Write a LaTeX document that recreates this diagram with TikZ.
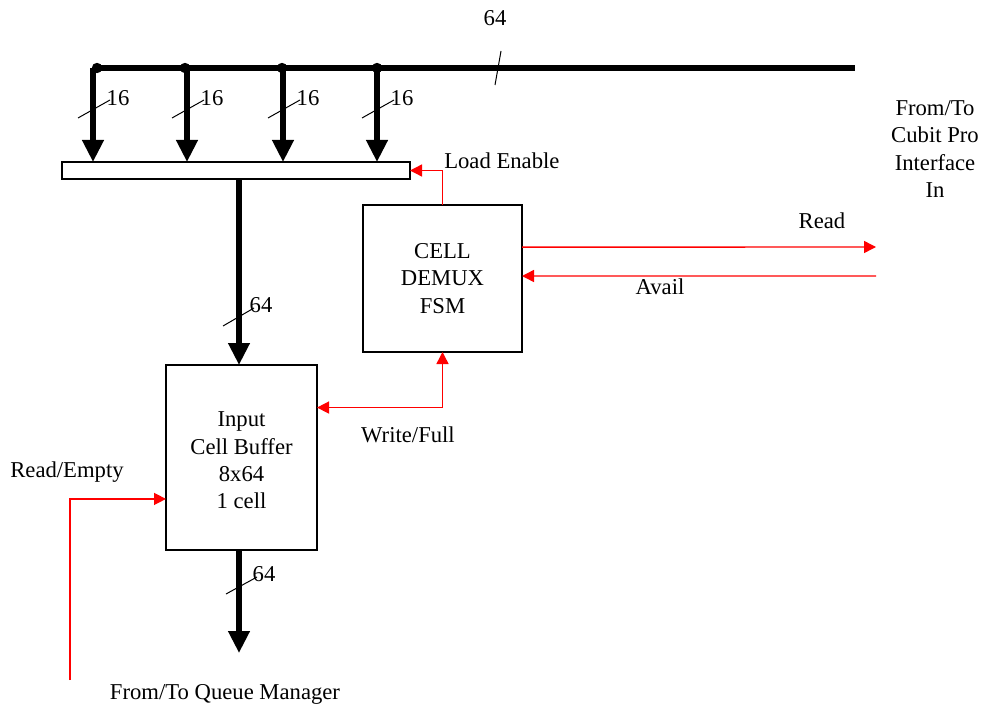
\documentclass[tikz,border=0pt]{standalone}
\usepackage{fontspec}
\setmainfont{Liberation Serif}
\usetikzlibrary{arrows.meta,calc}
\begin{document}
\begin{tikzpicture}[x=0.75pt,y=-0.75pt,
  every node/.style={font=\fontsize{17}{20.5}\selectfont},
  box/.style={draw,line width=0.8pt,inner sep=0pt,outer sep=0pt,anchor=north west,fill=white},
  bus/.style={line width=4pt},
  busarrow/.style={line width=3.9pt,-{Triangle[length=16.5pt,width=15.5pt]}},
  sig/.style={red,line width=1.1pt},
  sigarrow/.style={red,line width=1.1pt,-{Triangle[length=9pt,width=9pt]}},
  slash/.style={line width=0.75pt},
  lbl/.style={inner sep=0pt}]
\useasboundingbox (0,0) rectangle (984,706);

% boxes
\node[box,minimum width=261pt,minimum height=12.75pt] (reg) at (62,162) {};
\node[box,minimum width=119.25pt,minimum height=110.25pt] (fsm) at (363,205) {};
\node[box,minimum width=113.25pt,minimum height=138.75pt] (inbuf) at (166,365) {};
\node[lbl,align=center] (fsmtxt) at (fsm.center) {CELL\\DEMUX\\FSM};
\node[lbl,align=center] (inbuftxt) at ($(inbuf.center)+(0,3)$) {Input\\Cell Buffer\\8x64\\1 cell};

% main bus
\coordinate (busL) at (95,68);
\coordinate (busR) at (855,68);
\draw[bus] (busL) -- (busR);
\draw[slash] (495,85) -- (501,51);
\node[lbl] (bus64) at (495,18) {64};

% taps
\foreach \x/\d [count=\i] in {93/97,187/185,283/282,377/377}{
  \coordinate (t\i) at (\x,68);
  \fill (\d,68) circle[radius=3.9pt];
  \draw[busarrow] (t\i) -- (t\i |- reg.north);
  \draw[slash] (\x-15,118) -- (\x+17,100);
  \node[lbl] (l\i) at (\x+25,98) {16};
}

% register to input buffer
\coordinate (rgout) at (239,179);
\draw[busarrow] (rgout) -- (rgout |- inbuf.north);
\draw[slash] (223,326) -- (254,308);
\node[lbl] (l64a) at (261,305) {64};

% output of input buffer
\coordinate (qm) at (239,653);
\draw[busarrow] (qm |- inbuf.south) -- (qm);
\draw[slash] (226,594) -- (257,577);
\node[lbl] (l64b) at (264,574) {64};
\node[lbl] (qmtxt) at (225,694) {From/To Queue Manager};

% load enable
\draw[sigarrow] (fsm.north) |- (reg.east);
\node[lbl,anchor=west] (le) at (444,161) {Load Enable};

% read / avail
\coordinate (rdend) at (876,247);
\coordinate (avst) at (876,276);
\draw[sigarrow] ($(fsm.north east)!0.286!(fsm.south east)$) -- (rdend);
\draw[sigarrow] (avst) -- ($(fsm.north east)!0.483!(fsm.south east)$);
\node[lbl] (rdtxt) at (822,221) {Read};
\node[lbl] (avtxt) at (660,287) {Avail};
\node[lbl,align=center] (cubit) at (935,149) {From/To\\Cubit Pro\\Interface\\In};

% write/full
\draw[sig,{Triangle[length=9pt,width=9pt]}-{Triangle[length=9pt,width=9pt]}]
  ($(inbuf.north east)!0.23!(inbuf.south east)$) -| (fsm.south);
\node[lbl] (wftxt) at (408,435) {Write/Full};

% read/empty
\coordinate (re) at (70,680);
\draw[sigarrow] (re) |- ($(inbuf.north west)!0.724!(inbuf.south west)$);
\node[lbl] (retxt) at (67,472) {Read/Empty};
\end{tikzpicture}
\end{document}
